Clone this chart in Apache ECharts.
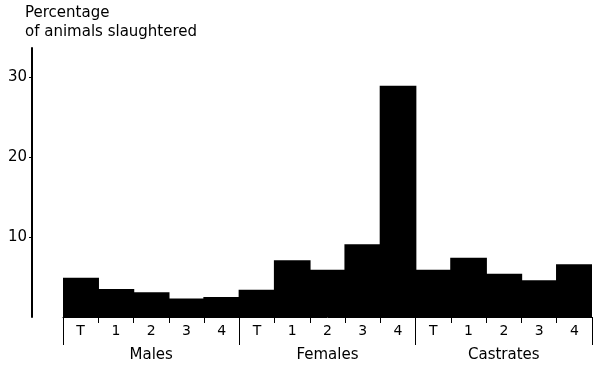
<!DOCTYPE html>
<html><head><meta charset="utf-8">
<script src="https://cdn.jsdelivr.net/npm/echarts@6/dist/echarts.min.js"></script>
<style>html,body{margin:0;padding:0;background:#fff}#c{width:598px;height:365px}</style>
</head><body><div id="c"></div>
<script>
const categories = ["T","1","2","3","4","T","1","2","3","4","T","1","2","3","4"];
const groups = ["Males","Females","Castrates"];
const males = [4.9, 3.5, 3.1, 2.3, 2.5];
const females = [3.4, 7.1, 5.9, 9.1, 28.9];
const castrates = [5.9, 7.4, 5.4, 4.6, 6.6];
const yTicks = [10, 20, 30];
const values = males.concat(females, castrates);
const FONT = "DejaVu Sans";
const chart = echarts.init(document.getElementById('c'), null, {renderer:'canvas'});
chart.setOption({
  animation:false,
  backgroundColor:'#fff',
  title:{text:"Percentage\nof animals slaughtered", left:20, top:-1,
    textStyle:{fontFamily:FONT, fontSize:15, fontWeight:'normal', color:'#000', lineHeight:19}},
  grid:{left:63, right:6, top:48, bottom:48},
  xAxis:[{
    type:'category', data:categories, position:'bottom',
    splitLine:{show:false}, splitArea:{show:false},
    axisLine:{show:true, lineStyle:{color:'#000', width:1}},
    axisTick:{show:true, length:6, lineStyle:{color:'#000', width:1}},
    axisLabel:{margin:7, color:'#000', fontFamily:FONT, fontSize:14, interval:0}
  },{
    type:'category', data:groups, position:'bottom',
    splitLine:{show:false}, splitArea:{show:false},
    axisLine:{show:false},
    axisTick:{show:true, length:28, lineStyle:{color:'#000', width:1}},
    axisLabel:{margin:31, color:'#000', fontFamily:FONT, fontSize:15, interval:0}
  }],
  yAxis:{
    type:'value', min:0, max:33.6, interval:10, offset:31,
    splitLine:{show:false},
    axisLine:{show:true, lineStyle:{color:'#000', width:2}},
    axisTick:{show:true, length:3, customValues:yTicks, lineStyle:{color:'#000', width:1}},
    axisLabel:{customValues:yTicks, margin:5, color:'#000', fontFamily:FONT, fontSize:15}
  },
  series:[{
    type:'bar', data:values, xAxisIndex:0, barWidth:'104%',
    itemStyle:{color:'#000', borderWidth:0}
  }]
});
</script></body></html>
